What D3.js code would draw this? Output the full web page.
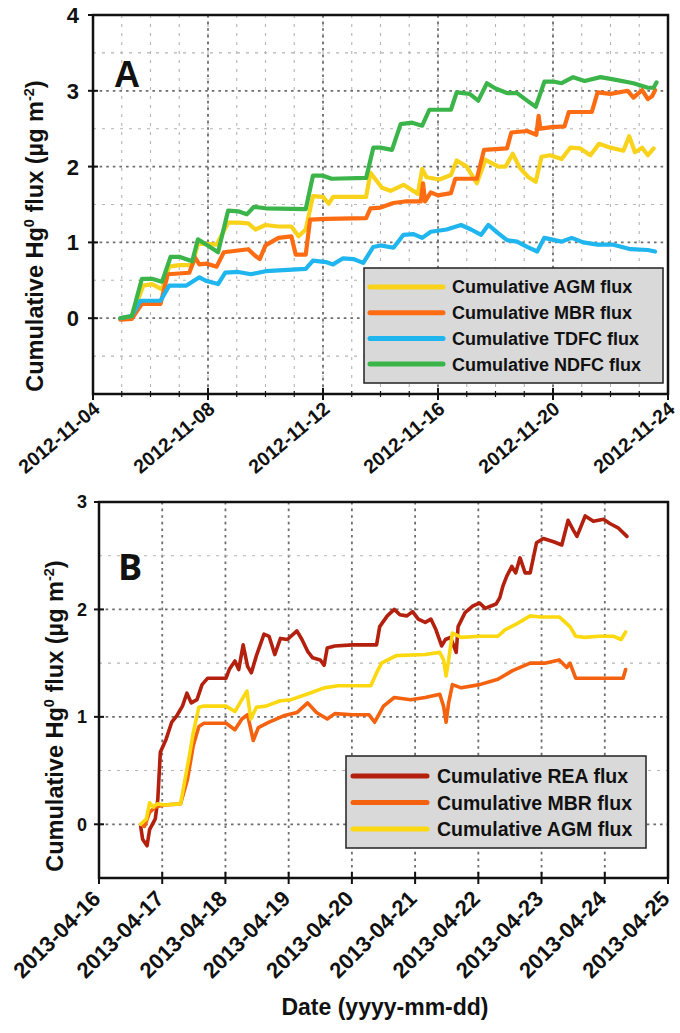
<!DOCTYPE html>
<html>
<head>
<meta charset="utf-8">
<script src="https://cdn.jsdelivr.net/npm/d3@7"></script>
<style>
  body { margin: 0; background: #fff; }
  svg { display: block; }
  text { font-family: "Liberation Sans", Arial, Helvetica, sans-serif; font-weight: bold; fill: #111; }
</style>
</head>
<body>
<svg id="fig" width="680" height="1033"></svg>
<script>
// ---- Panel A: November 2012 (x = day of month, y = cumulative Hg0 flux, µg m-2)
const agmA = [[4.95,0],[5.35,0.03],[5.75,0.43],[6.05,0.45],[6.4,0.38],[6.65,0.68],[7.0,0.70],[7.45,0.70],[7.65,0.98],[7.95,0.98],[8.3,0.97],[8.7,1.26],[9.05,1.26],[9.4,1.25],[9.65,1.17],[10.0,1.23],[10.45,1.21],[10.9,1.21],[11.15,1.08],[11.4,1.17],[11.65,1.61],[12.0,1.60],[12.2,1.51],[12.35,1.60],[13.5,1.60],[13.65,1.92],[13.85,1.82],[14.05,1.72],[14.35,1.68],[14.8,1.76],[15.3,1.64],[15.45,1.97],[15.6,1.86],[16.05,1.83],[16.45,1.89],[16.65,2.08],[17.0,2.00],[17.35,1.78],[17.65,2.09],[18.1,2.00],[18.35,2.00],[18.6,2.17],[18.85,1.98],[19.15,1.86],[19.4,1.80],[19.6,2.13],[19.9,2.15],[20.3,2.10],[20.6,2.25],[20.95,2.24],[21.3,2.15],[21.6,2.30],[22.0,2.25],[22.45,2.21],[22.65,2.40],[22.85,2.19],[23.1,2.25],[23.3,2.15],[23.5,2.24]];
const mbrA = [[4.95,-0.02],[5.35,-0.01],[5.7,0.19],[6.35,0.19],[6.6,0.58],[7.35,0.60],[7.55,0.80],[7.7,0.71],[7.95,0.72],[8.3,0.68],[8.55,0.87],[9.4,0.91],[9.65,0.82],[9.8,0.78],[10.0,0.96],[10.45,1.06],[10.9,1.08],[11.05,0.84],[11.4,0.84],[11.55,1.30],[12.1,1.31],[13.5,1.32],[13.65,1.45],[14.0,1.46],[14.45,1.52],[14.85,1.54],[15.4,1.54],[15.48,1.78],[15.55,1.54],[15.75,1.66],[16.0,1.62],[16.45,1.65],[16.6,1.84],[17.35,1.84],[17.6,2.22],[18.4,2.24],[18.55,2.45],[19.1,2.47],[19.42,2.42],[19.5,2.67],[19.56,2.50],[19.95,2.52],[20.4,2.53],[20.55,2.72],[21.35,2.72],[21.55,2.98],[22.0,2.96],[22.6,3.00],[22.8,2.91],[23.1,3.01],[23.3,2.89],[23.45,2.93],[23.55,3.01]];
const tdfcA = [[4.95,0],[5.35,0.03],[5.65,0.23],[6.35,0.23],[6.65,0.43],[7.25,0.43],[7.7,0.54],[7.95,0.49],[8.35,0.45],[8.6,0.60],[9.05,0.61],[9.5,0.58],[10.0,0.62],[11.4,0.65],[11.65,0.76],[12.1,0.74],[12.35,0.71],[12.7,0.79],[13.05,0.78],[13.4,0.73],[13.75,0.94],[14.0,0.96],[14.45,0.93],[14.8,1.10],[15.15,1.11],[15.45,1.06],[15.75,1.14],[16.3,1.17],[16.8,1.23],[17.15,1.17],[17.5,1.10],[17.75,1.23],[18.1,1.12],[18.4,1.03],[18.75,1.01],[19.1,0.94],[19.45,0.88],[19.7,1.06],[20.05,1.03],[20.3,1.01],[20.65,1.06],[21.05,1.00],[21.55,0.97],[22.1,0.97],[22.7,0.91],[23.3,0.90],[23.55,0.88]];
const ndfcA = [[4.95,0],[5.35,0.03],[5.7,0.52],[6.05,0.52],[6.4,0.48],[6.7,0.81],[7.0,0.81],[7.45,0.75],[7.65,1.04],[7.95,0.97],[8.35,0.87],[8.7,1.42],[9.05,1.41],[9.35,1.37],[9.6,1.47],[10.0,1.45],[11.4,1.44],[11.65,1.88],[12.0,1.88],[12.3,1.84],[13.5,1.85],[13.75,2.25],[14.0,2.25],[14.4,2.22],[14.7,2.56],[15.1,2.58],[15.45,2.54],[15.7,2.75],[16.45,2.75],[16.65,2.98],[17.1,2.96],[17.4,2.87],[17.7,3.10],[18.0,3.03],[18.4,2.97],[18.75,2.97],[19.1,2.87],[19.4,2.79],[19.7,3.12],[20.05,3.12],[20.3,3.10],[20.7,3.18],[21.1,3.13],[21.65,3.18],[22.1,3.15],[22.8,3.10],[23.3,3.04],[23.5,3.04],[23.6,3.11]];
const namesA = ["Cumulative AGM flux", "Cumulative MBR flux", "Cumulative TDFC flux", "Cumulative NDFC flux"];
const yTicksA = [0, 1, 2, 3, 4];
const xTicksA = ["2012-11-04", "2012-11-08", "2012-11-12", "2012-11-16", "2012-11-20", "2012-11-24"];

// ---- Panel B: April 2013 (x = day of month)
const reaB = [[16.66,-0.02],[16.69,-0.14],[16.76,-0.20],[16.80,-0.05],[16.89,0.05],[16.93,0.23],[16.97,0.67],[17.06,0.79],[17.15,0.95],[17.23,1.01],[17.32,1.10],[17.39,1.22],[17.46,1.13],[17.55,1.16],[17.63,1.30],[17.72,1.36],[18.01,1.36],[18.06,1.44],[18.15,1.52],[18.21,1.44],[18.28,1.67],[18.35,1.47],[18.41,1.41],[18.49,1.57],[18.61,1.77],[18.69,1.75],[18.78,1.58],[18.87,1.73],[18.98,1.72],[19.13,1.80],[19.21,1.72],[19.30,1.61],[19.38,1.55],[19.50,1.53],[19.56,1.48],[19.61,1.64],[19.73,1.66],[20.01,1.67],[20.39,1.67],[20.44,1.84],[20.56,1.94],[20.67,2.00],[20.76,1.95],[20.87,1.94],[20.96,1.98],[21.05,1.91],[21.16,1.88],[21.25,1.91],[21.33,1.81],[21.42,1.66],[21.48,1.72],[21.56,1.74],[21.65,1.60],[21.68,1.84],[21.79,1.97],[21.91,2.03],[22.02,2.06],[22.11,2.01],[22.19,2.03],[22.28,2.05],[22.34,2.11],[22.39,2.22],[22.45,2.31],[22.53,2.40],[22.59,2.34],[22.66,2.48],[22.74,2.34],[22.82,2.34],[22.92,2.62],[23.03,2.66],[23.19,2.63],[23.32,2.60],[23.42,2.83],[23.50,2.74],[23.56,2.68],[23.69,2.87],[23.82,2.82],[23.98,2.84],[24.08,2.80],[24.21,2.76],[24.35,2.68]];
const mbrB = [[16.66,0],[16.72,-0.02],[16.80,0.11],[16.89,0.16],[17.03,0.18],[17.29,0.19],[17.40,0.42],[17.49,0.73],[17.58,0.91],[17.66,0.94],[18.01,0.94],[18.15,0.88],[18.26,0.98],[18.35,1.02],[18.44,0.78],[18.52,0.90],[18.69,0.95],[18.92,1.01],[19.13,1.04],[19.30,1.13],[19.44,1.04],[19.61,0.98],[19.73,1.03],[20.01,1.02],[20.27,1.02],[20.36,0.95],[20.50,1.10],[20.67,1.18],[20.93,1.16],[21.16,1.18],[21.39,1.21],[21.45,1.10],[21.49,0.95],[21.53,1.13],[21.59,1.30],[21.73,1.27],[22.02,1.30],[22.31,1.35],[22.54,1.43],[22.82,1.50],[23.05,1.50],[23.28,1.53],[23.40,1.46],[23.45,1.50],[23.54,1.36],[23.68,1.36],[24.03,1.36],[24.29,1.36],[24.33,1.44]];
const agmB = [[16.66,0],[16.75,0.05],[16.80,0.20],[16.86,0.16],[16.92,0.19],[17.03,0.18],[17.29,0.19],[17.38,0.48],[17.43,0.64],[17.49,0.85],[17.58,1.09],[17.66,1.10],[18.01,1.10],[18.15,1.05],[18.26,1.16],[18.34,1.24],[18.40,0.98],[18.49,1.09],[18.64,1.10],[18.87,1.15],[19.04,1.16],[19.33,1.22],[19.56,1.27],[19.78,1.29],[20.30,1.29],[20.39,1.41],[20.47,1.50],[20.70,1.57],[21.16,1.58],[21.39,1.60],[21.45,1.53],[21.49,1.38],[21.53,1.53],[21.59,1.78],[21.73,1.74],[22.02,1.75],[22.31,1.75],[22.42,1.81],[22.59,1.86],[22.82,1.94],[22.99,1.93],[23.28,1.93],[23.45,1.84],[23.54,1.75],[23.68,1.74],[23.91,1.75],[24.14,1.75],[24.26,1.72],[24.33,1.79]];
const namesB = ["Cumulative REA flux", "Cumulative MBR flux", "Cumulative AGM flux"];
const yTicksB = [0, 1, 2, 3];
const xTicksB = ["2013-04-16", "2013-04-17", "2013-04-18", "2013-04-19", "2013-04-20", "2013-04-21", "2013-04-22", "2013-04-23", "2013-04-24", "2013-04-25"];

const svg = d3.select("#fig");
const parse = d3.utcParse("%Y-%m-%d");
const dayOf = (year, month) => d => new Date(Date.UTC(year, month, 1) + (d - 1) * 864e5);

function gridLine(g, x1, y1, x2, y2, major) {
  g.append("line").attr("x1", x1).attr("y1", y1).attr("x2", x2).attr("y2", y2)
    .attr("stroke", major ? "#6e6e6e" : "#b4b4b4")
    .attr("stroke-width", major ? 1.8 : 1.1)
    .attr("stroke-dasharray", major ? "2.6,4" : "3,6");
}

function drawPanel(cfg) {
  const x = d3.scaleUtc().domain(cfg.xDomain).range([cfg.left, cfg.right]);
  const y = d3.scaleLinear().domain(cfg.yDomain).range([cfg.bottom, cfg.top]);
  const g = svg.append("g");

  // grid
  const grid = g.append("g");
  cfg.xMinor.forEach(d => gridLine(grid, x(d), cfg.top, x(d), cfg.bottom, false));
  cfg.xMajor.forEach(d => gridLine(grid, x(d), cfg.top, x(d), cfg.bottom, true));
  cfg.yMinor.forEach(v => gridLine(grid, cfg.left, y(v), cfg.right, y(v), false));
  cfg.yMajor.forEach(v => gridLine(grid, cfg.left, y(v), cfg.right, y(v), true));

  // series
  const line = d3.line().x(p => x(cfg.toDate(p[0]))).y(p => y(p[1])).curve(d3.curveLinear);
  cfg.series.forEach(s => {
    g.append("path").datum(s.data).attr("d", line)
      .attr("fill", "none").attr("stroke", s.color).attr("stroke-width", cfg.lineWidth)
      .attr("stroke-linejoin", "round").attr("stroke-linecap", "round");
  });

  // frame
  g.append("rect").attr("x", cfg.left).attr("y", cfg.top)
    .attr("width", cfg.right - cfg.left).attr("height", cfg.bottom - cfg.top)
    .attr("fill", "none").attr("stroke", "#111").attr("stroke-width", 2.5);

  // x ticks
  cfg.xMinor.forEach(d => g.append("line").attr("x1", x(d)).attr("x2", x(d))
    .attr("y1", cfg.bottom - 3).attr("y2", cfg.bottom + 3).attr("stroke", "#111").attr("stroke-width", 1.2));
  cfg.xMajor.forEach(d => g.append("line").attr("x1", x(d)).attr("x2", x(d))
    .attr("y1", cfg.bottom - 6).attr("y2", cfg.bottom + 6).attr("stroke", "#111").attr("stroke-width", 2));
  // y ticks
  cfg.yTicks.forEach(v => g.append("line").attr("x1", cfg.left - 5).attr("x2", cfg.left + 5)
    .attr("y1", y(v)).attr("y2", y(v)).attr("stroke", "#111").attr("stroke-width", 2));

  // tick labels
  cfg.yTicks.forEach(v => g.append("text").attr("x", cfg.yLabelX).attr("y", y(v) + cfg.yTickFont * 0.36)
    .attr("text-anchor", "end").style("font-size", cfg.yTickFont + "px").text(v));
  cfg.xLabels.forEach(s => {
    const px = x(parse(s));
    g.append("text").attr("transform", `translate(${px + cfg.xLabDx},${cfg.bottom + cfg.xLabDy}) rotate(${cfg.xLabRot})`)
      .attr("text-anchor", "end").style("font-size", cfg.xTickFont + "px").text(s);
  });

  // y axis title
  const t = g.append("text").attr("transform", `translate(${cfg.titleX},${cfg.titleY}) rotate(-90)`)
    .attr("text-anchor", "middle").style("font-size", cfg.titleFont + "px");
  t.append("tspan").text("Cumulative Hg");
  t.append("tspan").attr("dy", -cfg.titleFont * 0.38).style("font-size", (cfg.titleFont * 0.62) + "px").text("0");
  t.append("tspan").attr("dy", cfg.titleFont * 0.38).text(" flux (µg m");
  t.append("tspan").attr("dy", -cfg.titleFont * 0.38).style("font-size", (cfg.titleFont * 0.62) + "px").text("-2");
  t.append("tspan").attr("dy", cfg.titleFont * 0.38).text(")");

  // panel letter
  g.append("text").attr("x", cfg.letterX).attr("y", cfg.letterY)
    .style("font-size", "36px").style("font-family", cfg.letterFont).text(cfg.letter);

  // legend
  const L = cfg.legend;
  g.append("rect").attr("x", L.x).attr("y", L.y).attr("width", L.w).attr("height", L.h)
    .attr("fill", "#d9d9d9").attr("stroke", "#222").attr("stroke-width", 1.5);
  cfg.series.forEach((s, i) => {
    const ly = L.y + L.row0 + i * L.step;
    g.append("line").attr("x1", L.x + L.lx0).attr("x2", L.x + L.lx1).attr("y1", ly).attr("y2", ly)
      .attr("stroke", s.color).attr("stroke-width", L.lw).attr("stroke-linecap", "round");
    g.append("text").attr("x", L.x + L.tx).attr("y", ly + L.font * 0.36)
      .style("font-size", L.font + "px").text(s.name);
  });
}

// Panel A
drawPanel({
  left: 93, right: 668, top: 15, bottom: 394,
  xDomain: [parse("2012-11-04"), parse("2012-11-24")],
  yDomain: [-1, 4],
  toDate: dayOf(2012, 10),
  xMajor: xTicksA.map(parse),
  xMinor: d3.utcDay.range(parse("2012-11-05"), parse("2012-11-24")),
  yMajor: [0, 1, 2, 3],
  yMinor: [-0.5, 0.5, 1.5, 2.5, 3.5],
  yTicks: yTicksA,
  yLabelX: 79, yTickFont: 22,
  xLabels: xTicksA, xLabDx: 8, xLabDy: 17, xLabRot: -40, xTickFont: 19.5,
  titleX: 43, titleY: 236, titleFont: 23.5,
  letter: "A", letterX: 114, letterY: 87, letterFont: "'Liberation Sans', Arial, sans-serif",
  lineWidth: 4.2,
  series: [
    { data: agmA, color: "#f9d31b", name: namesA[0] },
    { data: mbrA, color: "#fd6c12", name: namesA[1] },
    { data: tdfcA, color: "#1fb5ee", name: namesA[2] },
    { data: ndfcA, color: "#3bb54a", name: namesA[3] }
  ],
  legend: { x: 364, y: 268, w: 299, h: 115, row0: 19, step: 25.7, lx0: 6, lx1: 79, lw: 5, tx: 88, font: 18 }
});

// Panel B
drawPanel({
  left: 99, right: 668, top: 502, bottom: 878,
  xDomain: [parse("2013-04-16"), parse("2013-04-25")],
  yDomain: [-0.5, 3],
  toDate: dayOf(2013, 3),
  xMajor: xTicksB.map(parse),
  xMinor: [],
  yMajor: [0, 1, 2],
  yMinor: [0.5, 1.5, 2.5],
  yTicks: yTicksB,
  yLabelX: 87, yTickFont: 18,
  xLabels: xTicksB, xLabDx: 3, xLabDy: 22, xLabRot: -45, xTickFont: 22,
  titleX: 63, titleY: 716, titleFont: 23.5,
  letter: "B", letterX: 118, letterY: 580, letterFont: "'Open Sans', 'Noto Sans', sans-serif",
  lineWidth: 3.6,
  series: [
    { data: reaB, color: "#b3200e", name: namesB[0] },
    { data: mbrB, color: "#f4620f", name: namesB[1] },
    { data: agmB, color: "#fbd80f", name: namesB[2] }
  ],
  legend: { x: 346, y: 756, w: 300, h: 92, row0: 20, step: 26.5, lx0: 7, lx1: 81, lw: 5, tx: 91, font: 19.5 }
});

// shared x axis title
svg.append("text").attr("x", 385).attr("y", 1015).attr("text-anchor", "middle")
  .style("font-size", "23px").text("Date (yyyy-mm-dd)");
</script>
</body>
</html>
